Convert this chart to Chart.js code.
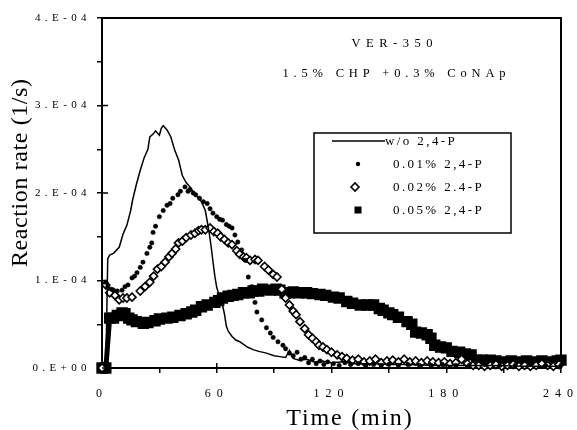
<!DOCTYPE html>
<html>
<head>
<meta charset="utf-8">
<script src="https://cdn.jsdelivr.net/npm/chart.js@4.4.1/dist/chart.umd.min.js"></script>
<style>
  html, body { margin: 0; background: #fff; }
  canvas { display: block; }
</style>
</head>
<body>
<canvas id="c" width="577" height="430"></canvas>
<script>
/* tick labels and series names */
const xTickLabels = ['0', '60', '120', '180', '240'];
const yTickLabels = ['0.E+00', '1.E-04', '2.E-04', '3.E-04', '4.E-04'];
const seriesNames = ['w/o 2,4-P', '0.01% 2,4-P', '0.02% 2.4-P', '0.05% 2,4-P'];

/* readings: [time (min), rate in units of 1e-4 1/s] */
const rateNone = [
  [0,0],[2,0],[3,1.25],[4,1.29],[6,1.31],[9,1.38],[11,1.53],[13,1.63],[15,1.8],[16,1.92],
  [18,2.1],[20,2.26],[22,2.4],[24,2.5],[25,2.64],[27,2.68],[28,2.71],[30,2.66],[31,2.74],[32,2.77],
  [34,2.72],[36,2.64],[38,2.49],[40,2.38],[42,2.2],[44,2.12],[46,2.07],[48,2.0],[50,1.95],[52,1.9],
  [54,1.8],[55,1.68],[56,1.55],[57,1.4],[58,1.22],[59,1.05],[60,0.92],[61,0.85],[62,0.78],[63,0.72],
  [64,0.62],[65,0.48],[66,0.42],[68,0.36],[70,0.32],[72,0.3],[74,0.27],[76,0.24],[79,0.21],[82,0.19],
  [86,0.17],[90,0.14],[93,0.13],[96,0.12],[98,0.2],[100,0.11],[103,0.09],[107,0.1],[111,0.07],[115,0.08],
  [120,0.06],[126,0.07],[132,0.05],[140,0.05],[150,0.04],[160,0.04],[175,0.03],[190,0.03],[205,0.03],
  [220,0.02],[240,0.02]
];
const rate001 = [
  [2,0.98],[3,0.93],[5,0.9],[6,0.89],[8,0.88],[10.5,0.89],[12,0.93],[13.6,0.95],[15.7,1.03],[17,1.05],
  [18.3,1.09],[20,1.15],[21.4,1.21],[23.5,1.31],[25,1.38],[26,1.43],[26.7,1.55],[28,1.62],[30,1.73],[32,1.8],
  [34,1.86],[35.6,1.88],[37,1.94],[39.7,1.98],[41,2.02],[43.4,2.07],[45,2.02],[46,2.04],[47.7,2.0],[49,1.98],
  [51,1.94],[53,1.9],[55,1.88],[56.5,1.82],[58,1.77],[60,1.73],[61.5,1.7],[63,1.69],[65,1.64],[66.5,1.62],
  [68,1.6],[69.5,1.52],[71,1.44],[73,1.35],[75,1.23],[76.5,1.04],[78.3,0.93],[80,0.75],[81,0.64],[83.5,0.55],
  [86,0.46],[88,0.4],[89.5,0.35],[92,0.3],[94.6,0.26],[96,0.22],[98,0.17],[100,0.14],[102,0.18],[104,0.1],
  [106,0.12],[108,0.06],[110,0.1],[112,0.05],[114,0.08],[116,0.04],[118,0.07],[121,0.05],[124,0.03],[127,0.06],
  [130,0.04],[134,0.05],[138,0.03],[142,0.04],[146,0.03],[150,0.04],[155,0.03],[160,0.04],[166,0.03],[172,0.03],
  [178,0.04],[185,0.03],[192,0.03],[200,0.04],[208,0.03],[216,0.03],[224,0.04],[232,0.03],[240,0.03]
];
const rate002 = [
  [0,0],[2,0.95],[4,0.86],[6.8,0.83],[9,0.78],[11,0.8],[13,0.8],[15.7,0.81],[20,0.88],[22.5,0.93],
  [25,0.98],[27,1.05],[29,1.13],[31,1.16],[33,1.21],[35,1.27],[36.6,1.31],[38.5,1.36],[40,1.43],[42,1.45],
  [44,1.49],[46.5,1.52],[48.6,1.54],[50.5,1.57],[52,1.58],[54,1.58],[56.5,1.6],[58.5,1.56],[60.5,1.54],[62,1.5],
  [64,1.47],[66,1.43],[68,1.41],[70.5,1.34],[72,1.3],[74,1.27],[75.5,1.26],[77.4,1.23],[80,1.24],[81.6,1.23],
  [85,1.16],[87,1.12],[89.5,1.07],[91.5,1.04],[94,0.9],[96,0.8],[98,0.72],[100,0.65],[101.5,0.61],[103.5,0.53],
  [106,0.45],[108,0.38],[110,0.34],[112,0.3],[113.5,0.26],[115.5,0.24],[117.6,0.21],[120,0.18],[123,0.15],[125.5,0.13],
  [128,0.11],[131,0.09],[134,0.1],[137,0.07],[140,0.08],[143,0.1],[146,0.06],[149,0.08],[152,0.09],[155,0.07],
  [158,0.1],[161,0.07],[164,0.08],[167,0.06],[170,0.08],[173,0.07],[176,0.06],[179,0.07],[182,0.05],[185,0.06],
  [188,0.1],[191,0.05],[194,0.03],[197,0.03],[200,0.02],[203,0.03],[206,0.04],[209,0.02],[212,0.03],[215,0.04],
  [218,0.02],[221,0.03],[224,0.02],[227,0.03],[230,0.05],[233,0.03],[236,0.02],[239,0.04]
];
const rate005 = [
  [0,0],[2,0],[4,0.57],[6,0.57],[8,0.6],[10.5,0.63],[12,0.62],[14,0.57],[15.7,0.55],[18,0.53],
  [21.6,0.51],[24,0.52],[27.7,0.54],[30,0.56],[34,0.57],[37,0.58],[40.8,0.6],[44,0.62],[47,0.64],[49,0.66],
  [52,0.7],[55,0.72],[59,0.75],[61,0.77],[63,0.8],[66,0.82],[68.5,0.83],[71,0.84],[74,0.86],[77,0.86],
  [79,0.88],[82,0.88],[84,0.9],[88,0.89],[91,0.9],[93,0.89],[95.7,0.86],[98,0.86],[100,0.87],[103,0.86],
  [107,0.86],[110,0.85],[114,0.84],[117,0.83],[121,0.81],[124,0.8],[128,0.76],[131,0.74],[135,0.72],[139,0.72],
  [142,0.72],[145,0.68],[147,0.66],[150,0.63],[152,0.61],[155,0.58],[159.5,0.53],[162,0.5],[164,0.41],[167,0.4],
  [170,0.38],[172,0.34],[174,0.26],[177,0.24],[180,0.23],[183,0.19],[187,0.18],[190,0.16],[193,0.15],[196,0.09],
  [199,0.09],[203,0.09],[206,0.08],[210,0.07],[214,0.08],[218,0.07],[222,0.08],[226,0.07],[230,0.08],[234,0.07],
  [238,0.08],[240,0.09]
];

const SERIF = '"Liberation Serif", "Times New Roman", serif';
const toXY = pts => pts.map(([t, r]) => ({ x: t, y: r }));

// text with canvas letter spacing; trailing space compensated for alignment
function spacedText(ctx, s, x, y, size, sp, align = 'left', base = 'alphabetic') {
  ctx.save();
  ctx.font = size + 'px ' + SERIF;
  ctx.letterSpacing = sp + 'px';
  ctx.fillStyle = '#000';
  ctx.textAlign = align;
  ctx.textBaseline = base;
  const dx = align === 'center' ? sp / 2 : align === 'right' ? sp : 0;
  ctx.fillText(s, x + dx, y);
  ctx.restore();
}

const decor = {
  id: 'decor',
  beforeDraw(chart) {
    const ctx = chart.ctx;
    ctx.save();
    ctx.fillStyle = '#fff';
    ctx.fillRect(0, 0, chart.width, chart.height);
    ctx.restore();
    ctx.letterSpacing = '4.4px';   // y tick labels (drawn before datasets)
  },
  beforeDatasetsDraw(chart) {
    const { ctx, chartArea: a, scales } = chart;
    ctx.save();
    ctx.strokeStyle = '#000';
    ctx.lineWidth = 2;
    ctx.strokeRect(a.left, a.top, a.right - a.left, a.bottom - a.top);
    // major ticks also poke a little inside the frame
    ctx.lineWidth = 1.5;
    ctx.beginPath();
    scales.y.ticks.forEach((t, i) => {
      if (i % 2) return;
      const y = scales.y.getPixelForValue(t.value);
      ctx.moveTo(a.left, y); ctx.lineTo(a.left + 6, y);
    });
    scales.x.ticks.forEach((t, i) => {
      if (i % 2) return;
      const x = scales.x.getPixelForValue(t.value);
      ctx.moveTo(x, a.bottom); ctx.lineTo(x, a.bottom - 5);
    });
    ctx.stroke();
    ctx.restore();
  },
  afterDatasetsDraw(chart) {
    chart.ctx.letterSpacing = '6px'; // x tick labels (z = 1, drawn after datasets)
  },
  afterDraw(chart) {
    const ctx = chart.ctx;
    ctx.letterSpacing = '0px';

    // axis titles
    spacedText(ctx, 'Time (min)', 349, 425, 24, 1.8, 'center');
    ctx.save();
    ctx.translate(27, 173);
    ctx.rotate(-Math.PI / 2);
    spacedText(ctx, 'Reaction rate (1/s)', 0, 0, 24, 0.6, 'center');
    ctx.restore();

    // annotation
    spacedText(ctx, 'VER-350', 392, 47, 12.5, 5.5, 'center');
    spacedText(ctx, '1.5% CHP +0.3% CoNAp', 394, 77, 12.5, 4.8, 'center');

    // legend box
    ctx.save();
    ctx.strokeStyle = '#000';
    ctx.lineWidth = 1.5;
    ctx.strokeRect(314, 133, 197, 100);

    ctx.beginPath();
    ctx.moveTo(332, 141); ctx.lineTo(385, 141);
    ctx.stroke();

    ctx.fillStyle = '#000';
    ctx.beginPath();
    ctx.arc(358, 164, 2.2, 0, Math.PI * 2);
    ctx.fill();

    ctx.lineWidth = 1.6;
    ctx.fillStyle = '#fff';
    ctx.beginPath();
    ctx.moveTo(351, 187); ctx.lineTo(355, 183); ctx.lineTo(359, 187); ctx.lineTo(355, 191);
    ctx.closePath();
    ctx.fill(); ctx.stroke();

    ctx.fillStyle = '#000';
    ctx.fillRect(354.5, 206.5, 7, 7);
    ctx.restore();

    spacedText(ctx, seriesNames[0], 385, 142, 13, 2.4, 'left', 'middle');
    spacedText(ctx, seriesNames[1], 393, 165, 13, 2.4, 'left', 'middle');
    spacedText(ctx, seriesNames[2], 393, 188, 13, 2.4, 'left', 'middle');
    spacedText(ctx, seriesNames[3], 393, 211, 13, 2.4, 'left', 'middle');
  }
};

new Chart(document.getElementById('c'), {
  type: 'scatter',
  data: {
    datasets: [
      { label: seriesNames[0], data: toXY(rateNone), showLine: true, borderColor: '#000',
        borderWidth: 1.5, pointRadius: 0, tension: 0, clip: false },
      { label: seriesNames[1], data: toXY(rate001), pointStyle: 'circle', pointRadius: 2.2,
        backgroundColor: '#000', borderColor: '#000', borderWidth: 0.5, clip: false },
      { label: seriesNames[2], data: toXY(rate002), pointStyle: 'rectRot', pointRadius: 4,
        backgroundColor: '#fff', borderColor: '#000', borderWidth: 1.6, clip: false },
      { label: seriesNames[3], data: toXY(rate005), pointStyle: 'rect', pointRadius: 4.5,
        showLine: true, borderWidth: 5, backgroundColor: '#000', borderColor: '#000', clip: false }
    ]
  },
  options: {
    responsive: false,
    animation: false,
    layout: { padding: { left: 0, top: 18, right: 16, bottom: 0 } },
    plugins: { legend: { display: false }, tooltip: { enabled: false } },
    scales: {
      x: {
        type: 'linear', min: 0, max: 240,
        afterFit: s => { s.height = 62; s.paddingLeft = 0; s.paddingRight = 0; },
        border: { display: false },
        grid: { drawOnChartArea: false, color: '#000', lineWidth: 1.5, tickLength: 5 },
        ticks: {
          stepSize: 30, padding: 14, color: '#000', maxRotation: 0, z: 1,
          font: { family: SERIF, size: 12 },
          callback: (v, i) => (i % 2 ? '' : xTickLabels[i / 2])
        }
      },
      y: {
        type: 'linear', min: 0, max: 4,
        afterFit: s => { s.width = 102; s.paddingTop = 0; s.paddingBottom = 0; },
        border: { display: false },
        grid: { drawOnChartArea: false, color: '#000', lineWidth: 1.5, tickLength: 5 },
        ticks: {
          stepSize: 0.5, padding: 6, color: '#000',
          font: { family: SERIF, size: 11 },
          callback: (v, i) => (i % 2 ? '' : yTickLabels[i / 2])
        }
      }
    }
  },
  plugins: [decor]
});
</script>
</body>
</html>
